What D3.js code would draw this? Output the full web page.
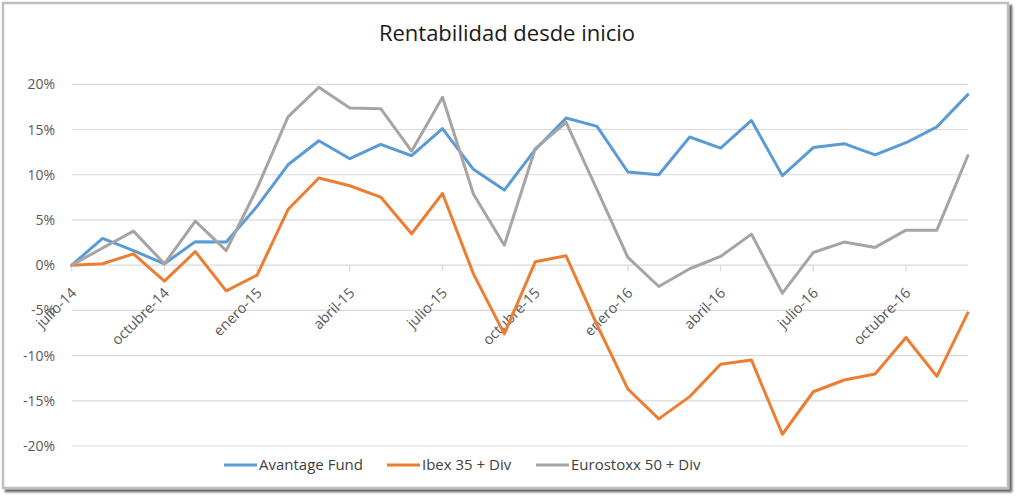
<!DOCTYPE html>
<html>
<head>
<meta charset="utf-8">
<script src="https://cdnjs.cloudflare.com/ajax/libs/d3/7.8.5/d3.min.js"></script>
<style>
	body { margin: 0; background: #fff; }
	svg { display: block; font-family: "Open Sans", sans-serif; }
</style>
</head>
<body>
<svg id="chart" width="1016" height="498"></svg>
<script>
	// months, jul-14 .. dic-16
	var months = ["julio-14","agosto-14","septiembre-14","octubre-14","noviembre-14","diciembre-14",
		"enero-15","febrero-15","marzo-15","abril-15","mayo-15","junio-15",
		"julio-15","agosto-15","septiembre-15","octubre-15","noviembre-15","diciembre-15",
		"enero-16","febrero-16","marzo-16","abril-16","mayo-16","junio-16",
		"julio-16","agosto-16","septiembre-16","octubre-16","noviembre-16","diciembre-16"];

	// values in %
	var avantage = [0, 2.95, 1.6, 0.15, 2.6, 2.55, 6.5, 11.1, 13.76, 11.77, 13.36, 12.1,
		15.1, 10.6, 8.3, 12.77, 16.27, 15.35, 10.3, 10.0, 14.17, 12.95, 16.0, 9.9,
		13.0, 13.43, 12.2, 13.54, 15.3, 18.86];
	var ibex = [0, 0.15, 1.25, -1.77, 1.5, -2.85, -1.1, 6.15, 9.63, 8.78, 7.53, 3.47,
		7.93, -0.96, -7.6, 0.37, 1.03, -6.6, -13.7, -17.0, -14.54, -10.96, -10.5, -18.7,
		-14.0, -12.7, -12.03, -8.0, -12.3, -5.28];
	var eurostoxx = [0, 1.9, 3.76, 0.15, 4.87, 1.6, 8.5, 16.4, 19.67, 17.38, 17.3, 12.6,
		18.56, 7.86, 2.2, 12.88, 15.8, 8.34, 0.85, -2.36, -0.4, 0.96, 3.43, -3.1,
		1.4, 2.55, 1.96, 3.87, 3.87, 12.1];

	var series_names = ["Avantage Fund", "Ibex 35 + Div", "Eurostoxx 50 + Div"];
	var series_colors = ["#5B9BD5", "#ED7D31", "#A5A5A5"];
	var y_ticks = [-20, -15, -10, -5, 0, 5, 10, 15, 20];
	var x_tick_labels = ["julio-14","octubre-14","enero-15","abril-15","julio-15","octubre-15",
		"enero-16","abril-16","julio-16","octubre-16"];

	var svg = d3.select("#chart");

	// frame + shadow
	var defs = svg.append("defs");
	var f = defs.append("filter").attr("id", "shadow")
		.attr("x", "-2%").attr("y", "-2%").attr("width", "104%").attr("height", "106%");
	f.append("feDropShadow").attr("dx", 3).attr("dy", 3).attr("stdDeviation", 1.3)
		.attr("flood-color", "#000").attr("flood-opacity", 0.6);

	svg.append("rect")
		.attr("x", 3).attr("y", 3).attr("width", 1005).attr("height", 485)
		.attr("fill", "#fff").attr("stroke", "#bfbfbf").attr("stroke-width", 2.5)
		.attr("filter", "url(#shadow)");

	var x = d3.scalePoint().domain(months).range([71.7, 967.8]);
	var y = d3.scaleLinear().domain([-20, 20]).range([446, 84.3]);

	// gridlines
	svg.append("g")
		.selectAll("line").data(y_ticks).enter().append("line")
		.attr("x1", x.range()[0]).attr("x2", x.range()[1])
		.attr("y1", function(d){ return y(d); })
		.attr("y2", function(d){ return y(d); })
		.attr("stroke", "#d9d9d9").attr("stroke-width", 1.2);

	// y labels
	svg.append("g")
		.selectAll("text").data(y_ticks).enter().append("text")
		.attr("x", 55)
		.attr("y", function(d){ return y(d); })
		.attr("dy", "0.36em")
		.attr("text-anchor", "end")
		.attr("font-size", "14px")
		.attr("fill", "#595959")
		.text(function(d){ return d + "%"; });

	// x ticks and labels on the zero line
	var xg = svg.append("g");
	xg.selectAll("line").data(x_tick_labels).enter().append("line")
		.attr("x1", function(d){ return x(d); })
		.attr("x2", function(d){ return x(d); })
		.attr("y1", y(0)).attr("y2", y(0) + 6)
		.attr("stroke", "#d9d9d9").attr("stroke-width", 1.2);

	xg.selectAll("text").data(x_tick_labels).enter().append("text")
		.attr("transform", function(d){ return "translate(" + (x(d) + 2) + "," + (y(0) + 25) + ") rotate(-45)"; })
		.attr("text-anchor", "end")
		.attr("dy", "0.36em")
		.attr("font-size", "14.5px")
		.attr("fill", "#595959")
		.text(function(d){ return d; });

	// lines
	var line = d3.line()
		.x(function(d, i){ return x(months[i]); })
		.y(function(d){ return y(d); });

	[avantage, ibex, eurostoxx].forEach(function(s, i){
		svg.append("path")
			.datum(s)
			.attr("d", line)
			.attr("fill", "none")
			.attr("stroke", series_colors[i])
			.attr("stroke-width", 3)
			.attr("stroke-linejoin", "round")
			.attr("stroke-linecap", "round");
	});

	// title
	svg.append("text")
		.attr("x", 507).attr("y", 40.5)
		.attr("text-anchor", "middle")
		.attr("font-size", "22px")
		.attr("fill", "#1a1a1a")
		.text("Rentabilidad desde inicio");

	// legend
	var legend_x = [224, 387, 536];
	var lg = svg.append("g");
	series_names.forEach(function(name, i){
		lg.append("line")
			.attr("x1", legend_x[i]).attr("x2", legend_x[i] + 33)
			.attr("y1", 465).attr("y2", 465)
			.attr("stroke", series_colors[i]).attr("stroke-width", 3);
		lg.append("text")
			.attr("x", legend_x[i] + 35).attr("y", 465)
			.attr("dy", "0.36em")
			.attr("font-size", "15px")
			.attr("fill", "#404040")
			.text(name);
	});
</script>
</body>
</html>
